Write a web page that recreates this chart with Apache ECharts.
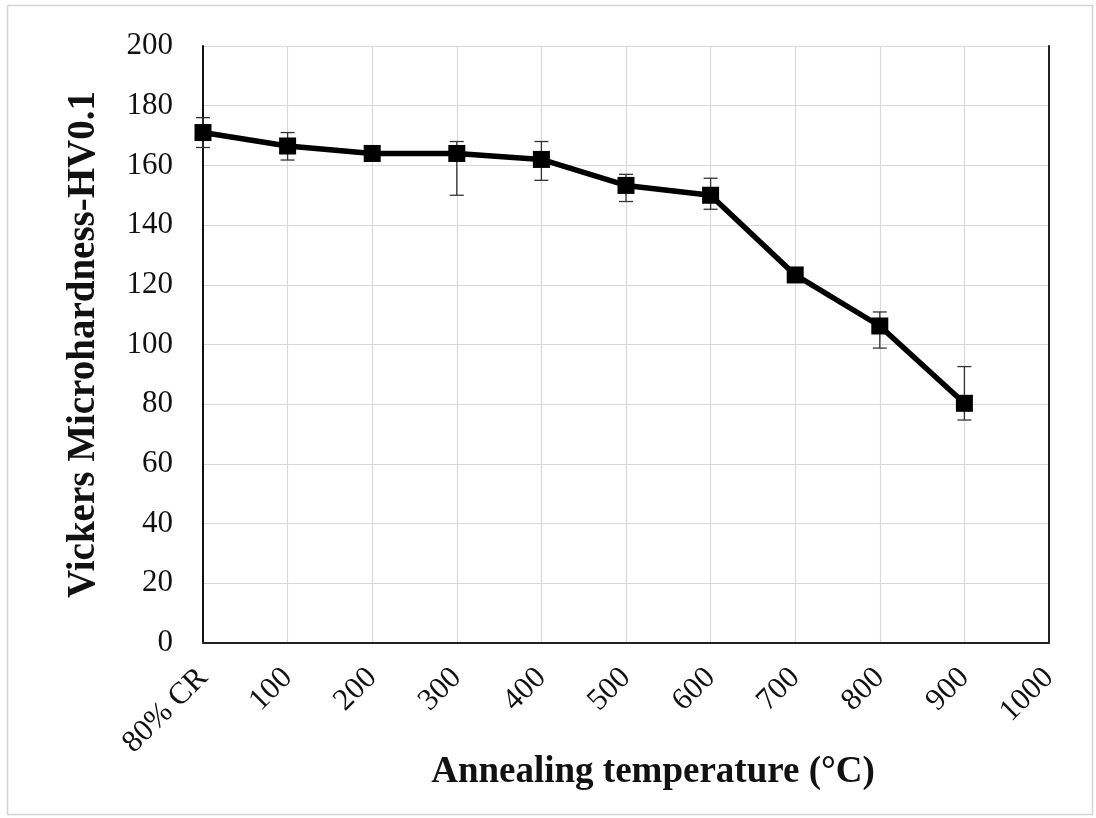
<!DOCTYPE html>
<html>
<head>
<meta charset="utf-8">
<script src="https://cdn.jsdelivr.net/npm/echarts@6/dist/echarts.min.js"></script>
<style>
  html, body { margin: 0; padding: 0; background: #fff; }
  #chart { width: 1096px; height: 818px; }
</style>
</head>
<body>
<div id="chart"></div>
<script>
// Annealing temperature categories (first point is the cold-rolled state)
const categories = ['80% CR', '100', '200', '300', '400', '500', '600', '700', '800', '900', '1000'];
// Mean Vickers microhardness (HV0.1) per condition
const hardness = [171, 166.5, 164, 164, 162, 153.3, 150, 123.3, 106.2, 80.3];
// Error bar extents above and below the mean
const errUp = [5, 4.5, 1, 4, 6, 3.7, 5.7, 1.5, 4.7, 12.3];
const errDown = [5, 4.7, 1, 14, 7, 5.4, 4.7, 1.5, 7.4, 5.6];
// Y-axis scale
const yMin = 0, yMax = 200, yStep = 20;

const errData = hardness.map((v, i) => [i, v - errDown[i], v + errUp[i]]);

const serif = '"Liberation Serif", "DejaVu Serif", serif';
const chart = echarts.init(document.getElementById('chart'));

chart.setOption({
  animation: false,
  backgroundColor: '#fff',
  grid: { left: 203, right: 47, top: 46, bottom: 175, containLabel: false },
  xAxis: [{
    type: 'category',
    data: categories,
    boundaryGap: false,
    axisLine: { show: true, lineStyle: { color: '#c8c8c8', width: 1.5 } },
    axisTick: { show: false },
    axisLabel: {
      rotate: 45, margin: 30, interval: 0,
      fontFamily: serif, fontSize: 31, color: '#111'
    },
    splitLine: { show: true, lineStyle: { color: '#d9d9d9', width: 1.2 } }
  }, {
    type: 'category',
    data: categories,
    boundaryGap: false,
    position: 'top',
    axisLine: { show: true, lineStyle: { color: '#222', width: 2 } },
    axisTick: { show: false },
    axisLabel: { show: false },
    splitLine: { show: false }
  }],
  yAxis: [{
    type: 'value',
    min: yMin, max: yMax, interval: yStep,
    axisLine: { show: true, lineStyle: { color: '#111', width: 2 } },
    axisTick: { show: false },
    axisLabel: { margin: 30, fontFamily: serif, fontSize: 31, color: '#111' },
    splitLine: { show: true, lineStyle: { color: '#d9d9d9', width: 1.2 } },
    name: 'Vickers Microhardness-HV0.1',
    nameLocation: 'middle',
    nameGap: 100,
    nameTextStyle: { fontFamily: serif, fontSize: 39, fontWeight: 'bold', color: '#111' }
  }, {
    type: 'value',
    min: yMin, max: yMax, interval: yStep,
    position: 'right',
    axisLine: { show: true, lineStyle: { color: '#222', width: 2 } },
    axisTick: { show: false },
    axisLabel: { show: false },
    splitLine: { show: false }
  }],
  graphic: [{
    type: 'rect',
    shape: { x: 7.5, y: 5.5, width: 1085, height: 809 },
    style: { fill: 'none', stroke: '#d4d4d4', lineWidth: 1.5 },
    silent: true
  }, {
    type: 'text',
    x: 653, y: 772,
    style: {
      text: 'Annealing temperature (°C)',
      font: 'bold 37px ' + serif,
      fill: '#111',
      textAlign: 'center',
      textVerticalAlign: 'middle'
    }
  }],
  series: [{
    type: 'custom',
    z: 3,
    data: errData,
    renderItem: function (params, api) {
      const x = api.coord([api.value(0), 0])[0];
      const lo = api.coord([api.value(0), api.value(1)])[1];
      const hi = api.coord([api.value(0), api.value(2)])[1];
      const cap = 7;
      const st = { stroke: '#333', lineWidth: 1.3 };
      return {
        type: 'group',
        children: [
          { type: 'line', shape: { x1: x, y1: lo, x2: x, y2: hi }, style: st },
          { type: 'line', shape: { x1: x - cap, y1: hi, x2: x + cap, y2: hi }, style: st },
          { type: 'line', shape: { x1: x - cap, y1: lo, x2: x + cap, y2: lo }, style: st }
        ]
      };
    }
  }, {
    type: 'line',
    z: 4,
    data: hardness,
    symbol: 'rect',
    symbolSize: 17,
    lineStyle: { color: '#000', width: 5.5 },
    itemStyle: { color: '#000' }
  }]
});
</script>
</body>
</html>
